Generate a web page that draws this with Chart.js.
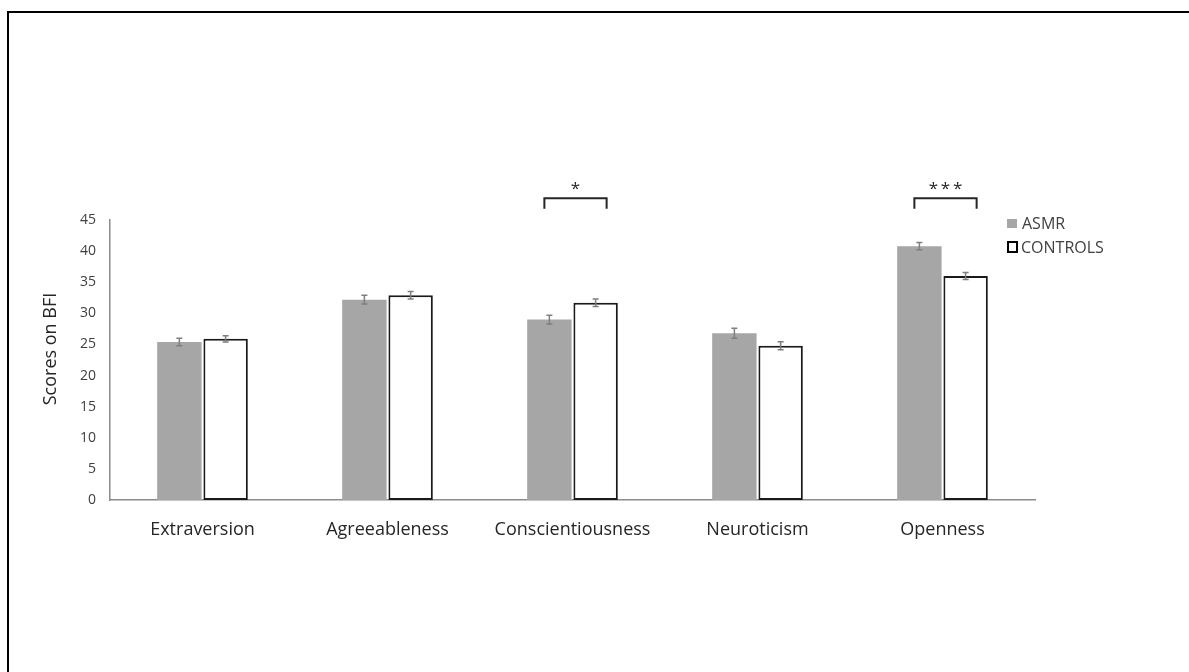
<!DOCTYPE html>
<html>
<head>
<meta charset="utf-8">
<script src="https://cdn.jsdelivr.net/npm/chart.js@4/dist/chart.umd.min.js"></script>
<style>
  html, body { margin: 0; padding: 0; background: #fff; overflow: hidden; }
  #frame { position: absolute; left: 7px; top: 11px; width: 1200px; height: 700px; border: 2px solid #000; }
  #c { position: absolute; left: 0; top: 0; }
</style>
</head>
<body>
<div id="frame"></div>
<canvas id="c" width="1189" height="672"></canvas>
<script>
// BFI scores
var categories = ['Extraversion', 'Agreeableness', 'Conscientiousness', 'Neuroticism', 'Openness'];
var asmr = [25.4, 32.2, 29.0, 26.8, 40.8];
var controls = [25.9, 32.9, 31.7, 24.8, 36.0];
var asmrErr = [0.6, 0.7, 0.7, 0.8, 0.6];
var controlsErr = [0.5, 0.6, 0.6, 0.65, 0.55];
var sigMarks = ['', '', '*', '', '***'];
var yTitle = 'Scores on BFI';

var font = '"Open Sans", Lato, sans-serif';
var errs = [asmrErr, controlsErr];

var errorBars = {
  id: 'errorBars',
  afterDatasetsDraw: function (chart) {
    var ctx = chart.ctx, y = chart.scales.y;
    ctx.save();
    ctx.strokeStyle = '#7f7f7f';
    ctx.lineWidth = 1.5;
    for (var d = 0; d < 2; d++) {
      var meta = chart.getDatasetMeta(d);
      var vals = chart.data.datasets[d].data;
      meta.data.forEach(function (bar, i) {
        var hi = y.getPixelForValue(vals[i] + errs[d][i]);
        var lo = y.getPixelForValue(vals[i] - errs[d][i]);
        ctx.beginPath();
        ctx.moveTo(bar.x, hi); ctx.lineTo(bar.x, lo);
        ctx.moveTo(bar.x - 3, hi); ctx.lineTo(bar.x + 3, hi);
        ctx.moveTo(bar.x - 3, lo); ctx.lineTo(bar.x + 3, lo);
        ctx.stroke();
      });
    }
    ctx.restore();
  }
};

var extras = {
  id: 'extras',
  afterDraw: function (chart) {
    var ctx = chart.ctx, y = chart.scales.y;
    var m0 = chart.getDatasetMeta(0), m1 = chart.getDatasetMeta(1);
    ctx.save();
    // significance brackets
    sigMarks.forEach(function (s, i) {
      if (!s) return;
      var x0 = m0.data[i].x - 5, x1 = m1.data[i].x + 11;
      var top = y.getPixelForValue(48.5), bot = y.getPixelForValue(46.8);
      ctx.strokeStyle = '#262626';
      ctx.lineWidth = 2;
      ctx.beginPath();
      ctx.moveTo(x0, bot); ctx.lineTo(x0, top); ctx.lineTo(x1, top); ctx.lineTo(x1, bot);
      ctx.stroke();
      ctx.fillStyle = '#262626';
      ctx.font = '17px ' + font;
      ctx.textAlign = 'center';
      ctx.textBaseline = 'alphabetic';
      ctx.fillText(s.split('').join('\u2009'), (x0 + x1) / 2, y.getPixelForValue(49.1));
    });
    // y axis title, centred where the original puts it
    ctx.save();
    ctx.translate(51, 349);
    ctx.rotate(-Math.PI / 2);
    ctx.fillStyle = '#262626';
    ctx.font = '18px ' + font;
    ctx.textAlign = 'center';
    ctx.textBaseline = 'middle';
    ctx.fillText(yTitle, 0, 0);
    ctx.restore();
    // legend
    var lx = 1007;
    ctx.fillStyle = '#a6a6a6';
    ctx.fillRect(lx, 219, 10, 9);
    ctx.strokeStyle = '#000';
    ctx.lineWidth = 2;
    ctx.strokeRect(lx + 1, 242, 9, 10);
    ctx.fillStyle = '#404040';
    ctx.font = '16px ' + font;
    ctx.textAlign = 'left';
    ctx.textBaseline = 'middle';
    ctx.fillText('ASMR', 1022, 224);
    ctx.fillText('CONTROLS', 1021, 248);
    ctx.restore();
  }
};

new Chart(document.getElementById('c'), {
  type: 'bar',
  data: {
    labels: categories,
    datasets: [
      { label: 'ASMR', data: asmr, backgroundColor: '#a6a6a6', borderWidth: 0,
        categoryPercentage: 0.5, barPercentage: 0.96 },
      { label: 'CONTROLS', data: controls, backgroundColor: '#ffffff', borderColor: '#1a1a1a',
        borderWidth: 2, borderSkipped: false, categoryPercentage: 0.5, barPercentage: 0.96 }
    ]
  },
  options: {
    responsive: false,
    devicePixelRatio: 1,
    animation: false,
    layout: { padding: { top: 220, right: 154, left: 0, bottom: 0 } },
    plugins: { legend: { display: false }, tooltip: { enabled: false } },
    scales: {
      x: {
        grid: { display: false, drawTicks: false },
        border: { color: '#8c8c8c', width: 1.5 },
        ticks: { color: '#262626', font: { family: font, size: 18 }, padding: 19, maxRotation: 0 },
        afterFit: function (s) { s.height = 172; }
      },
      y: {
        min: 0, max: 45,
        grid: { display: false, drawTicks: false },
        border: { color: '#8c8c8c', width: 1.5 },
        ticks: { stepSize: 5, color: '#404040', font: { family: font, size: 14 }, padding: 14 },
        afterFit: function (s) { s.width = 110; }
      }
    }
  },
  plugins: [errorBars, extras]
});
</script>
</body>
</html>
